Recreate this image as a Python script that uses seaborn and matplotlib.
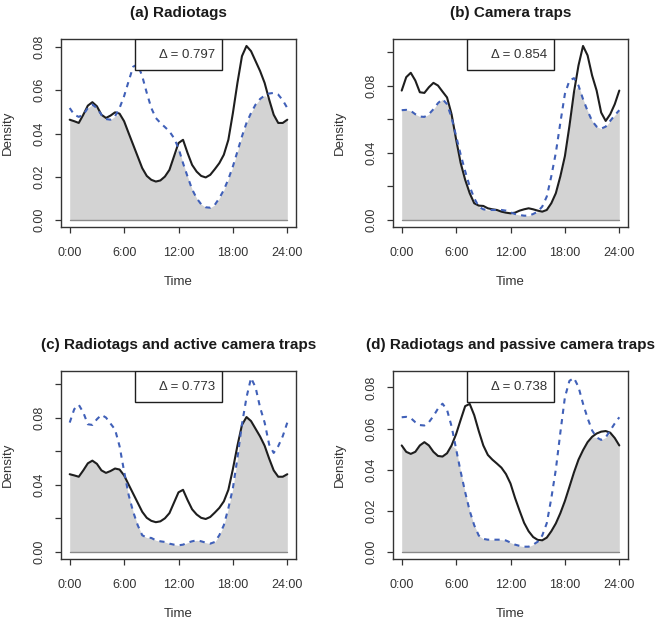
import numpy as np
import pandas as pd
import matplotlib
matplotlib.use("Agg")
import matplotlib.pyplot as plt
import seaborn as sns
from matplotlib.patches import Rectangle

# time of day, read every half hour
hours = np.arange(0, 24.5, 0.5)

# density curves
radio_active = [0.0464, 0.0457, 0.0449, 0.0487, 0.0529, 0.0545, 0.0526, 0.0487, 0.0472, 0.0483,
                0.0498, 0.0492, 0.0457, 0.0402, 0.0348, 0.0294, 0.0240, 0.0204, 0.0186, 0.0178,
                0.0183, 0.0201, 0.0232, 0.0294, 0.0356, 0.0371, 0.0310, 0.0255, 0.0224, 0.0204,
                0.0197, 0.0209, 0.0235, 0.0263, 0.0302, 0.0371, 0.0495, 0.0634, 0.0758, 0.0805,
                0.0781, 0.0735, 0.0689, 0.0634, 0.0557, 0.0487, 0.0449, 0.0449, 0.0464]
radio_passive = [0.0518, 0.0487, 0.0477, 0.0487, 0.0518, 0.0534, 0.0518, 0.0487, 0.0467, 0.0464,
                 0.0480, 0.0518, 0.0573, 0.0642, 0.0709, 0.0720, 0.0665, 0.0588, 0.0518, 0.0472,
                 0.0449, 0.0430, 0.0410, 0.0379, 0.0333, 0.0263, 0.0201, 0.0142, 0.0101, 0.0073,
                 0.0059, 0.0057, 0.0070, 0.0101, 0.0139, 0.0189, 0.0248, 0.0317, 0.0387, 0.0449,
                 0.0495, 0.0534, 0.0560, 0.0576, 0.0585, 0.0588, 0.0580, 0.0554, 0.0518]
cam_active = [0.0772, 0.0852, 0.0878, 0.0832, 0.0762, 0.0758, 0.0792, 0.0818, 0.0802, 0.0766,
              0.0731, 0.0631, 0.0481, 0.0341, 0.0240, 0.0160, 0.0100, 0.0086, 0.0084, 0.0070,
              0.0064, 0.0060, 0.0050, 0.0044, 0.0040, 0.0044, 0.0056, 0.0064, 0.0070, 0.0064,
              0.0056, 0.0050, 0.0060, 0.0100, 0.0160, 0.0261, 0.0381, 0.0561, 0.0762, 0.0922,
              0.1038, 0.0982, 0.0862, 0.0772, 0.0641, 0.0591, 0.0631, 0.0691, 0.0772]
cam_passive = [0.0655, 0.0657, 0.0651, 0.0631, 0.0617, 0.0615, 0.0631, 0.0661, 0.0697, 0.0721,
               0.0691, 0.0611, 0.0501, 0.0391, 0.0291, 0.0200, 0.0130, 0.0080, 0.0064, 0.0060,
               0.0060, 0.0060, 0.0060, 0.0056, 0.0046, 0.0036, 0.0030, 0.0026, 0.0026, 0.0036,
               0.0050, 0.0080, 0.0140, 0.0261, 0.0401, 0.0581, 0.0752, 0.0832, 0.0846, 0.0802,
               0.0721, 0.0651, 0.0591, 0.0557, 0.0545, 0.0557, 0.0591, 0.0625, 0.0655]

titles = ["(a) Radiotags", "(b) Camera traps",
          "(c) Radiotags and active camera traps", "(d) Radiotags and passive camera traps"]
solid_curves = [radio_active, cam_active, radio_active, radio_passive]
dashed_curves = [radio_passive, cam_passive, cam_active, cam_passive]
deltas = ["0.797", "0.854", "0.773", "0.738"]
xtick_labels = ["0:00", "6:00", "12:00", "18:00", "24:00"]

sns.set_theme(style="white")
plt.rcParams["font.family"] = ["Liberation Sans", "DejaVu Sans"]
txt = "#333333"

fig = plt.figure(figsize=(6.6, 6.2), dpi=100)

for i in range(4):
    col, row = i % 2, i // 2
    left = [61, 393][col]
    top = [39, 371][row]
    ax = fig.add_axes([left / 660, 1 - (top + 188) / 620, 235 / 660, 188 / 620])

    df = pd.DataFrame({"hour": hours, "solid": solid_curves[i], "dashed": dashed_curves[i]})
    ax.fill_between(df["hour"], 0, np.minimum(df["solid"], df["dashed"]), color="#d3d3d3", lw=0)
    ax.plot([0, 24], [0, 0], color="#8a8a8a", lw=1)
    sns.lineplot(data=df, x="hour", y="solid", ax=ax, color="#1e1e1e", lw=1.5)
    sns.lineplot(data=df, x="hour", y="dashed", ax=ax, color="#4060b8", lw=1.5,
                 linestyle=(0, (2.5, 2.5)))

    m = max(df["solid"].max(), df["dashed"].max())
    ax.set_xlim(-0.96, 24.96)
    ax.set_ylim(-0.04 * m, 1.04 * m)
    ax.set_xticks(range(0, 25, 6))
    ax.set_xticklabels(xtick_labels)
    yt = np.arange(0, m + 1e-9, 0.02)
    ax.set_yticks(yt)
    step = 2 if len(yt) > 5 else 1
    ax.set_yticklabels([f"{v:.2f}" if k % step == 0 else "" for k, v in enumerate(yt)],
                       rotation=90, va="center")
    ax.tick_params(direction="out", length=4.3, width=0.9, color="#333333",
                   labelsize=9, labelcolor=txt, bottom=True, left=True)
    ax.tick_params(axis="x", pad=10)
    ax.tick_params(axis="y", pad=7.2)
    for s in ax.spines.values():
        s.set_color("#333333")
        s.set_linewidth(1.0)

    ax.set_xlabel("Time", fontsize=9.5, color=txt)
    ax.set_ylabel("Density", fontsize=9.5, color=txt)
    ax.xaxis.set_label_coords(0.5, -0.258)
    ax.yaxis.set_label_coords(-0.2, 0.5)
    ax.set_title(titles[i], fontsize=11, fontweight="bold", color="#1a1a1a", pad=16)

    ax.add_patch(Rectangle((0.315, 0.833), 0.371, 0.167, transform=ax.transAxes,
                           facecolor="white", edgecolor="#1e1e1e", lw=1.0, zorder=5))
    ax.text(0.656, 0.9165, f"\u0394 = {deltas[i]}", transform=ax.transAxes,
            ha="right", va="center", fontsize=9.5, color=txt, zorder=6)

fig.savefig("out.png", dpi=100)
